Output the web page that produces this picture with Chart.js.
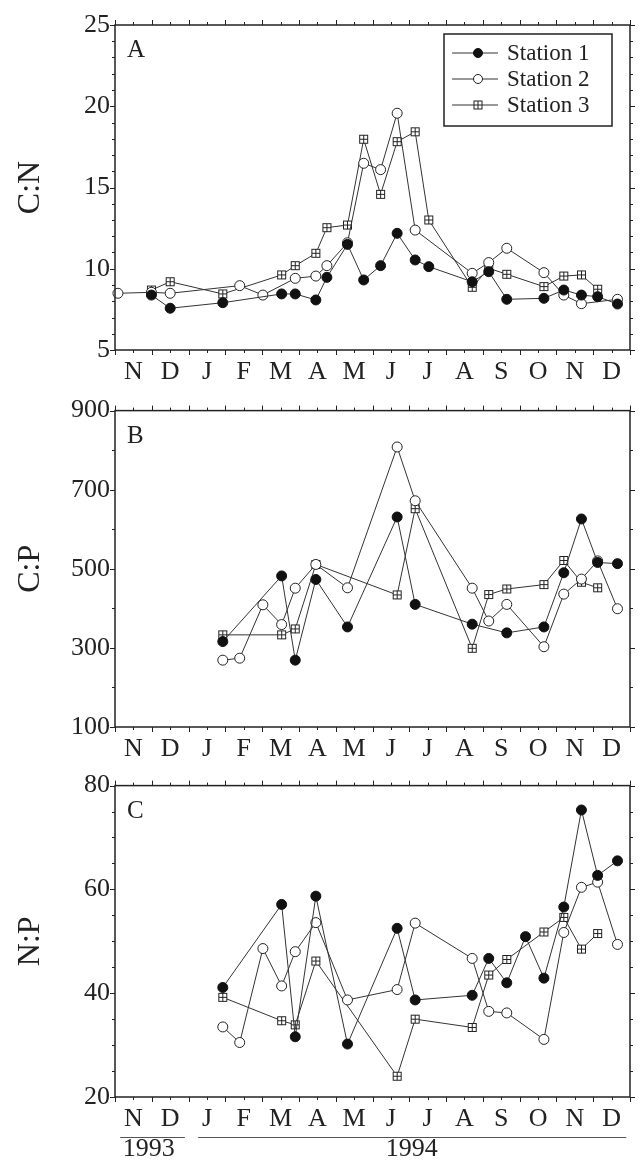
<!DOCTYPE html>
<html lang="en">
<head>
<meta charset="UTF-8">
<title>C:N, C:P and N:P ratios</title>
<script src="https://cdn.jsdelivr.net/npm/chart.js"></script>
<style>
  body { margin: 0; background: #fff; }
  #wrap { position: relative; width: 637px; height: 1170px; }
  canvas { position: absolute; left: 0; }
</style>
</head>
<body>
<div id="wrap">
  <canvas id="chartA" width="637" height="390" style="top:0px"></canvas>
  <canvas id="chartB" width="637" height="375" style="top:390px"></canvas>
  <canvas id="chartC" width="637" height="405" style="top:765px"></canvas>
</div>
<script>
// month axis: Nov 1993 .. Dec 1994
const monthLabels = ['N','D','J','F','M','A','M','J','J','A','S','O','N','D'];
const stationNames = ['Station 1', 'Station 2', 'Station 3'];

// sampling dates (months since 1 Nov 1993)
const sampleDates = [0.08, 0.99, 1.5, 2.93, 3.39, 4.02, 4.53, 4.9, 5.46, 5.76, 6.32, 6.76, 7.22,
                     7.67, 8.16, 8.53, 9.71, 10.16, 10.65, 11.16, 11.66, 12.2, 12.68, 13.12, 13.66];

// A  C:N
const cnStation1 = [null, 8.38, 7.57, 7.91, null, null, 8.45, 8.45, 8.08, 9.47, 11.5, 9.31, 10.19,
                    12.18, 10.54, 10.13, 9.2, 9.82, 8.12, null, 8.18, 8.69, 8.38, 8.28, 7.83];
const cnStation2 = [8.49, 8.55, 8.49, null, 8.96, 8.38, null, 9.41, 9.55, 10.19, 11.6, 16.49, 16.1,
                    19.57, 12.38, null, 9.72, 10.38, 11.26, null, 9.76, 8.38, 7.85, null, 8.12];
const cnStation3 = [null, 8.69, 9.2, 8.45, null, null, 9.62, 10.19, 10.95, 12.53, 12.69, 17.97, 14.58,
                    17.82, 18.43, 13.0, 8.86, 10.03, 9.66, null, 8.9, 9.55, 9.62, 8.74, null];

// B  C:P
const cpStation1 = [null, null, null, 316, null, null, 482, 269, 473, null, 353, null, null,
                    631, 410, null, 360, null, 338, null, 353, 490, 626, 516, 513];
const cpStation2 = [null, null, null, 269, 274, 409, 359, 451, 511, null, 452, null, null,
                    808, 672, null, 451, 368, 410, null, 303, 436, 474, 520, 399];
const cpStation3 = [null, null, null, 333, null, null, 333, 348, 511, null, null, null, null,
                    434, 652, null, 299, 435, 449, null, 460, 521, 466, 452, null];

// C  N:P
const npStation1 = [null, null, null, 41.1, null, null, 57.1, 31.6, 58.7, null, 30.2, null, null,
                    52.5, 38.7, null, 39.6, 46.7, 42.0, 50.9, 42.9, 56.6, 75.3, 62.7, 65.5];
const npStation2 = [null, null, null, 33.5, 30.5, 48.6, 41.4, 48.0, 53.6, null, 38.7, null, null,
                    40.7, 53.5, null, 46.7, 36.5, 36.2, null, 31.1, 51.7, 60.4, 61.4, 49.4];
const npStation3 = [null, null, null, 39.2, null, null, 34.7, 33.9, 46.2, null, null, null, null,
                    24.0, 35.0, null, 33.4, 43.5, 46.5, null, 51.8, 54.6, 48.5, 51.5, null];

const SERIF = "'Liberation Serif', 'Times New Roman', serif";
const INK = '#222';

// square with a cross, station 3 marker
function crossSquare() {
  const c = document.createElement('canvas');
  c.width = 11; c.height = 11;
  const g = c.getContext('2d');
  g.fillStyle = '#fff';
  g.fillRect(1, 1, 9, 9);
  g.strokeStyle = INK;
  g.lineWidth = 1;
  g.strokeRect(1.5, 1.5, 8, 8);
  g.beginPath();
  g.moveTo(5.5, 1.5); g.lineTo(5.5, 9.5);
  g.moveTo(1.5, 5.5); g.lineTo(9.5, 5.5);
  g.stroke();
  return c;
}
const squareIcon = crossSquare();

const markerStyles = [
  { pointStyle: 'circle', pointRadius: 5, pointBackgroundColor: '#111', pointBorderColor: '#111' },
  { pointStyle: 'circle', pointRadius: 5, pointBackgroundColor: '#fff', pointBorderColor: INK },
  { pointStyle: squareIcon, pointRadius: 5, pointBackgroundColor: '#fff', pointBorderColor: INK }
];

function toPoints(vals) {
  return sampleDates.map((d, i) => ({ x: d, y: vals[i] })).filter(p => p.y !== null);
}

// frame, tick marks, panel letter, legend, year labels
const framePlugin = {
  id: 'frame',
  afterDraw(chart, args, opts) {
    const { ctx, chartArea: a, scales: { x, y } } = chart;
    ctx.save();
    ctx.strokeStyle = INK;
    ctx.lineWidth = 1.5;
    ctx.strokeRect(a.left, a.top, a.right - a.left, a.bottom - a.top);

    ctx.lineWidth = 1;
    ctx.beginPath();
    for (let v = 0; v <= 14; v += 0.5) {
      const px = Math.round(x.getPixelForValue(v)) + 0.5;
      const len = v % 1 === 0 ? 5 : 3;
      ctx.moveTo(px, a.bottom); ctx.lineTo(px, a.bottom + len);
      ctx.moveTo(px, a.top); ctx.lineTo(px, a.top - len);
    }
    for (let v = y.min; v <= y.max + 1e-9; v += opts.minor) {
      const py = Math.round(y.getPixelForValue(v)) + 0.5;
      const len = Math.abs((v - y.min) % opts.major) < 1e-9 ? 5 : 3;
      ctx.moveTo(a.left, py); ctx.lineTo(a.left - len, py);
      ctx.moveTo(a.right, py); ctx.lineTo(a.right + len, py);
    }
    ctx.stroke();

    ctx.fillStyle = INK;
    ctx.font = '25px ' + SERIF;
    ctx.textAlign = 'left';
    ctx.textBaseline = 'alphabetic';
    ctx.fillText(opts.letter, a.left + 12, a.top + 32);

    if (opts.legend) {
      const bx = a.right - 186, by = a.top + 9, bw = 168, bh = 92;
      ctx.fillStyle = '#fff';
      ctx.fillRect(bx, by, bw, bh);
      ctx.lineWidth = 1.5;
      ctx.strokeStyle = INK;
      ctx.strokeRect(bx, by, bw, bh);
      chart.data.datasets.forEach((ds, i) => {
        const ry = by + 19 + i * 26;
        ctx.lineWidth = 1;
        ctx.strokeStyle = '#333';
        ctx.beginPath();
        ctx.moveTo(bx + 8, ry); ctx.lineTo(bx + 54, ry);
        ctx.stroke();
        const mx = bx + 34;
        if (ds.pointStyle === 'circle') {
          ctx.beginPath();
          ctx.arc(mx, ry, 4.5, 0, Math.PI * 2);
          ctx.fillStyle = ds.pointBackgroundColor;
          ctx.fill();
          ctx.strokeStyle = ds.pointBorderColor;
          ctx.stroke();
        } else {
          ctx.drawImage(squareIcon, mx - 5.5, ry - 5.5);
        }
        ctx.fillStyle = INK;
        ctx.font = '23px ' + SERIF;
        ctx.textBaseline = 'middle';
        ctx.fillText(ds.label, bx + 63, ry + 1);
      });
    }

    if (opts.years) {
      ctx.strokeStyle = '#555';
      ctx.lineWidth = 1;
      const ly = a.bottom + 40.5;
      ctx.beginPath();
      ctx.moveTo(x.getPixelForValue(0.14), ly); ctx.lineTo(x.getPixelForValue(1.9), ly);
      ctx.moveTo(x.getPixelForValue(2.26), ly); ctx.lineTo(x.getPixelForValue(13.9), ly);
      ctx.stroke();
      ctx.fillStyle = INK;
      ctx.font = '26px ' + SERIF;
      ctx.textAlign = 'center';
      ctx.textBaseline = 'middle';
      ctx.fillText('1993', x.getPixelForValue(0.92), a.bottom + 52);
      ctx.fillText('1994', x.getPixelForValue(8.07), a.bottom + 52);
    }
    ctx.restore();
  }
};

function makePanel(id, series, yCfg, frameOpts, pad, xHeight) {
  const datasets = series.map((vals, i) => Object.assign({
    label: stationNames[i],
    data: toPoints(vals),
    borderColor: '#333',
    borderWidth: 1,
    pointBorderWidth: 1,
    tension: 0,
    clip: false
  }, markerStyles[i]));

  new Chart(document.getElementById(id).getContext('2d'), {
    type: 'line',
    data: { datasets },
    plugins: [framePlugin],
    options: {
      responsive: false,
      animation: false,
      devicePixelRatio: 1,
      layout: { padding: pad },
      plugins: {
        legend: { display: false },
        tooltip: { enabled: false },
        frame: frameOpts
      },
      scales: {
        x: {
          type: 'linear',
          min: 0, max: 14,
          grid: { display: false, drawTicks: false },
          border: { display: false },
          afterBuildTicks: s => { s.ticks = monthLabels.map((_, i) => ({ value: i + 0.5 })); },
          afterFit: s => { s.height = xHeight; },
          ticks: {
            autoSkip: false, maxRotation: 0, padding: 7,
            color: INK, font: { family: SERIF, size: 26 },
            callback: v => monthLabels[Math.floor(v)]
          }
        },
        y: {
          min: yCfg.min, max: yCfg.max,
          grid: { display: false, drawTicks: false },
          border: { display: false },
          afterFit: s => { s.width = 115; },
          ticks: { stepSize: yCfg.step, padding: 5, color: INK, font: { family: SERIF, size: 26 } },
          title: {
            display: true, text: yCfg.title, color: INK,
            font: { family: SERIF, size: 32 }, padding: { top: 11, bottom: 0 }
          }
        }
      }
    }
  });
}

makePanel('chartA', [cnStation1, cnStation2, cnStation3],
  { min: 5, max: 25, step: 5, title: 'C:N' },
  { letter: 'A', major: 5, minor: 1, legend: true },
  { top: 25, right: 7, bottom: 0, left: 0 }, 40);

makePanel('chartB', [cpStation1, cpStation2, cpStation3],
  { min: 100, max: 900, step: 200, title: 'C:P' },
  { letter: 'B', major: 200, minor: 100 },
  { top: 8, right: 7, bottom: 0, left: 0 }, 38);

makePanel('chartC', [npStation1, npStation2, npStation3],
  { min: 20, max: 80, step: 20, title: 'N:P' },
  { letter: 'C', major: 20, minor: 5, years: true },
  { top: 8, right: 7, bottom: 33, left: 0 }, 40);
</script>
</body>
</html>
